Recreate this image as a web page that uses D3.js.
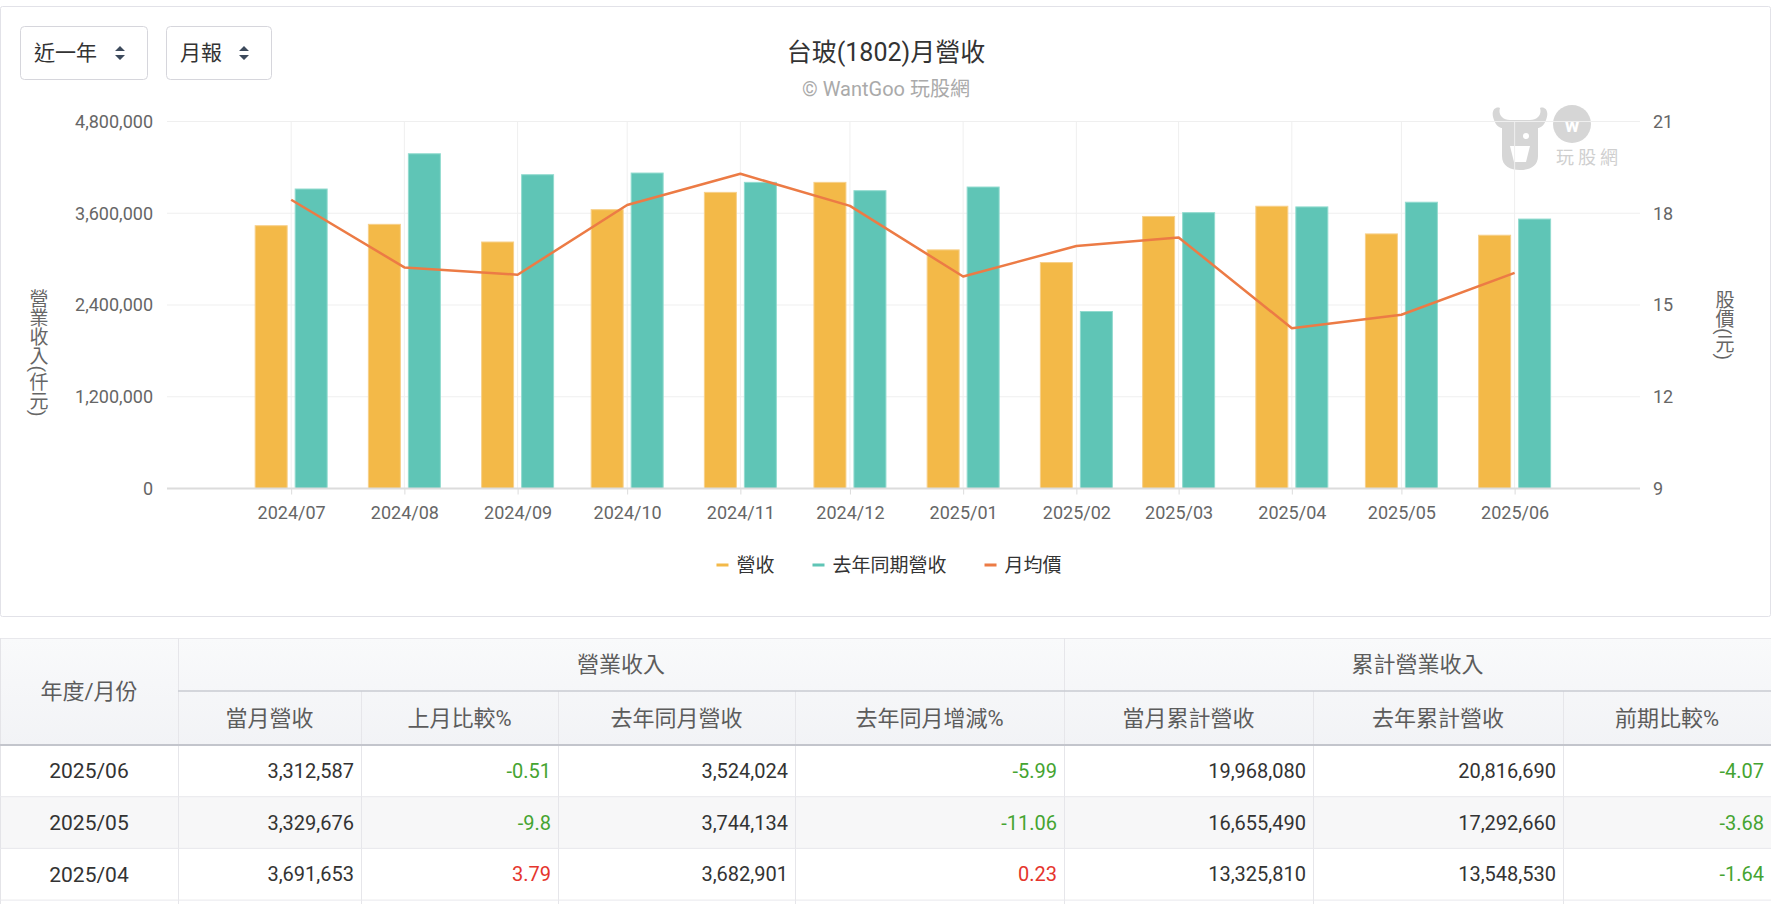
<!DOCTYPE html>
<html>
<head>
<meta charset="utf-8">
<script src="https://cdn.jsdelivr.net/npm/d3@7"></script>
<style>
body { margin: 0; background: #fff; }
svg { display: block; font-family: Roboto, "Noto Sans CJK TC", sans-serif; }
</style>
</head>
<body>
<script>
const width = 1776, height = 904

// chart data (仟元 / 元)
const months = ["2024/07", "2024/08", "2024/09", "2024/10", "2024/11", "2024/12",
    "2025/01", "2025/02", "2025/03", "2025/04", "2025/05", "2025/06"]
const revenue = [3437000, 3455000, 3224000, 3647000, 3873000, 4004000,
    3121000, 2955000, 3558157, 3691653, 3329676, 3312587]
const lastYear = [3917000, 4378000, 4104000, 4126000, 4004000, 3895000,
    3943000, 2315000, 3607629, 3682901, 3744134, 3524024]
const price = [18.44, 16.23, 15.99, 18.27, 19.29, 18.24, 15.93, 16.93, 17.21, 14.24, 14.68, 16.05]
const leftTicks = [0, 1200000, 2400000, 3600000, 4800000]
const rightTicks = [9, 12, 15, 18, 21]
const seriesNames = ["營收", "去年同期營收", "月均價"]
const seriesColors = ["#f3b948", "#5fc5b6", "#ec7b45"]

// table data
const tMonths = ["2025/06", "2025/05", "2025/04"]
const tRevenue = [3312587, 3329676, 3691653]
const tMom = ["-0.51", "-9.8", "3.79"]
const tLastYear = [3524024, 3744134, 3682901]
const tYoy = ["-5.99", "-11.06", "0.23"]
const tCum = [19968080, 16655490, 13325810]
const tCumLast = [20816690, 17292660, 13548530]
const tCumPct = ["-4.07", "-3.68", "-1.64"]
const groupHeads = ["營業收入", "累計營業收入"]
const colHeads = ["當月營收", "上月比較%", "去年同月營收", "去年同月增減%", "當月累計營收", "去年累計營收", "前期比較%"]

const svg = d3.select("body").append("svg")
    .attr("width", width)
    .attr("height", height)

// panel
svg.append("rect")
    .attr("x", 0.5).attr("y", 6.5)
    .attr("width", 1770).attr("height", 610)
    .attr("rx", 2)
    .attr("fill", "#fff")
    .attr("stroke", "#e2e2e8")

// dropdown buttons
const buttons = [{label: "近一年", x: 20, w: 127}, {label: "月報", x: 166, w: 105}]
const btn = svg.selectAll(".btn").data(buttons).enter().append("g")
    .attr("class", "btn")
    .attr("transform", d => `translate(${d.x},26)`)
btn.append("rect")
    .attr("x", 0.5).attr("y", 0.5)
    .attr("width", d => d.w).attr("height", 53)
    .attr("rx", 4)
    .attr("fill", "#fff")
    .attr("stroke", "#d6d6dc")
btn.append("text")
    .attr("x", 14).attr("y", 27)
    .attr("dy", "0.35em")
    .attr("font-size", 21)
    .attr("fill", "#333")
    .text(d => d.label)
btn.append("path")
    .attr("transform", d => `translate(${d.w - 27},27)`)
    .attr("d", "M-5,-2 L0,-7 L5,-2 Z M-5,2 L0,7 L5,2 Z")
    .attr("fill", "#3d4a5c")

// title
svg.append("text")
    .attr("x", 886).attr("y", 52).attr("dy", "0.35em")
    .attr("text-anchor", "middle")
    .attr("font-size", 25)
    .attr("fill", "#333")
    .text("台玻(1802)月營收")
svg.append("text")
    .attr("x", 886).attr("y", 89).attr("dy", "0.35em")
    .attr("text-anchor", "middle")
    .attr("font-size", 20)
    .attr("fill", "#aaa")
    .text("© WantGoo 玩股網")

// scales
const parse = d3.timeParse("%Y/%m")
const dates = months.map(parse)
const plot = {left: 167, right: 1640, top: 121.5, bottom: 488.5}
const x = d3.scaleTime()
    .domain([d3.timeDay.offset(dates[0], -34), d3.timeHour.offset(dates[dates.length - 1], 34 * 24 + 8)])
    .range([plot.left, plot.right])
const yL = d3.scaleLinear().domain([0, 4800000]).range([plot.bottom, plot.top])
const yR = d3.scaleLinear().domain([9, 21]).range([plot.bottom, plot.top])

// watermark
const wm = svg.append("g").attr("transform", "translate(1490,106)").attr("fill", "#d6d6d6")
wm.append("path")
    .attr("d", "M4,14 C0,4 6,0 10,2 C8,8 12,14 20,14 L40,14 C48,14 52,8 50,2 C54,0 60,4 56,14 C54,20 50,22 48,22 L48,50 C48,60 40,64 30,64 C20,64 12,60 12,50 L12,22 C10,22 6,20 4,14 Z")
wm.append("path")
    .attr("d", "M20,40 L40,40 L36,56 L24,56 Z")
    .attr("fill", "#fff")
wm.append("circle").attr("cx", 36).attr("cy", 30).attr("r", 3).attr("fill", "#fff")
wm.append("circle").attr("cx", 82).attr("cy", 18).attr("r", 19)
wm.append("text")
    .attr("x", 82).attr("y", 19).attr("dy", "0.35em")
    .attr("text-anchor", "middle")
    .attr("font-size", 20).attr("font-weight", "bold")
    .attr("fill", "#fff")
    .text("w")
wm.append("text")
    .attr("x", 66).attr("y", 58)
    .attr("font-size", 18)
    .attr("letter-spacing", 4)
    .attr("fill", "#cfcfcf")
    .text("玩股網")

// grid
const grid = svg.append("g")
grid.selectAll(".hgrid").data(leftTicks.slice(1)).enter().append("line")
    .attr("x1", plot.left).attr("x2", plot.right)
    .attr("y1", d => yL(d)).attr("y2", d => yL(d))
    .attr("stroke", "#efefef")
grid.selectAll(".vgrid").data(dates).enter().append("line")
    .attr("x1", d => x(d)).attr("x2", d => x(d))
    .attr("y1", plot.top).attr("y2", plot.bottom)
    .attr("stroke", "#efefef")

// bars
const bw = 32, gap = 8
const bars = svg.append("g")
bars.selectAll(".rev").data(revenue).enter().append("rect")
    .attr("x", (d, i) => x(dates[i]) - gap / 2 - bw)
    .attr("y", d => yL(d))
    .attr("width", bw)
    .attr("height", d => yL(0) - yL(d))
    .attr("fill", seriesColors[0])
    .attr("stroke", "#f7d08a").attr("stroke-width", 1)
bars.selectAll(".ly").data(lastYear).enter().append("rect")
    .attr("x", (d, i) => x(dates[i]) + gap / 2)
    .attr("y", d => yL(d))
    .attr("width", bw)
    .attr("height", d => yL(0) - yL(d))
    .attr("fill", seriesColors[1])
    .attr("stroke", "#92dbcf").attr("stroke-width", 1)

// axes
const axisL = svg.append("g")
    .attr("transform", `translate(${plot.left},0)`)
    .call(d3.axisLeft(yL).tickValues(leftTicks).tickFormat(d3.format(",")).tickSize(0).tickPadding(14))
const axisR = svg.append("g")
    .attr("transform", `translate(${plot.right},0)`)
    .call(d3.axisRight(yR).tickValues(rightTicks).tickSize(0).tickPadding(13))
const axisB = svg.append("g")
    .attr("transform", `translate(0,${plot.bottom})`)
    .call(d3.axisBottom(x).tickValues(dates).tickFormat(d3.timeFormat("%Y/%m")).tickSize(6).tickPadding(12))
;[axisL, axisR, axisB].forEach(a => {
    a.select(".domain").remove()
    a.selectAll("text").attr("font-size", 18).attr("fill", "#666")
    a.attr("font-family", null)
})
axisB.selectAll(".tick line").attr("stroke", "#dcdcdc")
svg.append("line")
    .attr("x1", plot.left).attr("x2", plot.right)
    .attr("y1", plot.bottom).attr("y2", plot.bottom)
    .attr("stroke", "#dcdcdc").attr("stroke-width", 2)

// price line
svg.append("path")
    .datum(price)
    .attr("fill", "none")
    .attr("stroke", seriesColors[2])
    .attr("stroke-width", 2.5)
    .attr("stroke-linejoin", "round")
    .attr("d", d3.line().x((d, i) => x(dates[i])).y(d => yR(d)))

// axis titles
svg.append("text")
    .attr("x", 37).attr("y", 353)
    .attr("text-anchor", "middle")
    .style("writing-mode", "vertical-rl")
    .attr("font-size", 19).attr("fill", "#666")
    .text("營業收入(仟元)")
svg.append("text")
    .attr("x", 1723).attr("y", 325)
    .attr("text-anchor", "middle")
    .style("writing-mode", "vertical-rl")
    .attr("font-size", 19).attr("fill", "#666")
    .text("股價(元)")

// legend
const legend = svg.append("g").attr("transform", "translate(0,565)")
const items = legend.selectAll(".item").data(seriesNames).enter().append("g")
items.append("rect")
    .attr("y", -1.5).attr("width", 12).attr("height", 3)
    .attr("fill", (d, i) => seriesColors[i])
items.append("text")
    .attr("x", 20).attr("dy", "0.35em")
    .attr("font-size", 19).attr("fill", "#333")
    .text(d => d)
let widths = []
items.each(function () { widths.push(20 + this.querySelector("text").getComputedTextLength()) })
const itemGap = 38
const total = d3.sum(widths) + itemGap * (widths.length - 1)
let cx = 889 - total / 2
items.attr("transform", (d, i) => {
    const t = `translate(${cx},0)`
    cx += widths[i] + itemGap
    return t
})

// table
const cols = [0, 178, 361, 558, 795, 1064, 1313, 1563, 1771]
const hTop = 638, hMid = 691, hBot = 745, rowH = 51.7
const table = svg.append("g")
const grad = svg.append("defs").append("linearGradient")
    .attr("id", "hbg").attr("x1", 0).attr("x2", 0).attr("y1", 0).attr("y2", 1)
grad.append("stop").attr("offset", 0).attr("stop-color", "#f9fafb")
grad.append("stop").attr("offset", 1).attr("stop-color", "#f2f3f6")
table.append("rect")
    .attr("x", 0).attr("y", hTop).attr("width", cols[8]).attr("height", hBot - hTop)
    .attr("fill", "url(#hbg)")
table.append("rect")
    .attr("x", 0).attr("y", hBot + rowH).attr("width", cols[8]).attr("height", rowH)
    .attr("fill", "#f7f7f8")

// borders
table.append("line").attr("x1", 0).attr("x2", cols[8]).attr("y1", hTop + 0.5).attr("y2", hTop + 0.5).attr("stroke", "#e8e8ec")
table.append("line").attr("x1", 0.5).attr("x2", 0.5).attr("y1", hTop).attr("y2", height).attr("stroke", "#e4e4e8")
table.selectAll(".vline").data(cols.slice(1, 8)).enter().append("line")
    .attr("x1", d => d + 0.5).attr("x2", d => d + 0.5)
    .attr("y1", d => (d === 178 || d === 1064) ? hTop : hMid)
    .attr("y2", height)
    .attr("stroke", "#e6e6ea")
table.append("line").attr("x1", cols[1]).attr("x2", cols[8]).attr("y1", hMid).attr("y2", hMid).attr("stroke", "#c9cbd2").attr("stroke-width", 1.5)
table.append("line").attr("x1", 0).attr("x2", cols[8]).attr("y1", hBot).attr("y2", hBot).attr("stroke", "#c3c5cc").attr("stroke-width", 2)
table.selectAll(".hline").data(d3.range(1, 4)).enter().append("line")
    .attr("x1", 0).attr("x2", cols[8])
    .attr("y1", d => hBot + d * rowH).attr("y2", d => hBot + d * rowH)
    .attr("stroke", "#e8e8ec")

// header text
const headStyle = sel => sel.attr("text-anchor", "middle").attr("dy", "0.35em").attr("font-size", 22).attr("fill", "#5c5c5c")
table.append("text").attr("x", cols[1] / 2).attr("y", (hTop + hBot) / 2).call(headStyle).text("年度/月份")
table.append("text").attr("x", (cols[1] + cols[5]) / 2).attr("y", (hTop + hMid) / 2).call(headStyle).text(groupHeads[0])
table.append("text").attr("x", (cols[5] + cols[8]) / 2).attr("y", (hTop + hMid) / 2).call(headStyle).text(groupHeads[1])
table.selectAll(".colhead").data(colHeads).enter().append("text")
    .attr("x", (d, i) => (cols[i + 1] + cols[i + 2]) / 2)
    .attr("y", (hMid + hBot) / 2)
    .call(headStyle)
    .text(d => d)

// body
const fmt = d3.format(",")
const pctColor = v => +v < 0 ? "#45a431" : "#e5352d"
const rows = tMonths.map((m, i) => [
    {t: m, c: "#333"},
    {t: fmt(tRevenue[i]), c: "#333"},
    {t: tMom[i], c: pctColor(tMom[i])},
    {t: fmt(tLastYear[i]), c: "#333"},
    {t: tYoy[i], c: pctColor(tYoy[i])},
    {t: fmt(tCum[i]), c: "#333"},
    {t: fmt(tCumLast[i]), c: "#333"},
    {t: tCumPct[i], c: pctColor(tCumPct[i])}
])
const row = table.selectAll(".row").data(rows).enter().append("g")
    .attr("transform", (d, i) => `translate(0,${hBot + i * rowH + rowH / 2})`)
row.selectAll("text").data(d => d).enter().append("text")
    .attr("x", (d, j) => j === 0 ? cols[1] / 2 : cols[j + 1] - 7)
    .attr("text-anchor", (d, j) => j === 0 ? "middle" : "end")
    .attr("dy", "0.35em")
    .attr("font-size", (d, j) => j === 0 ? 21 : 20)
    .attr("fill", d => d.c)
    .text(d => d.t)
</script>
</body>
</html>
